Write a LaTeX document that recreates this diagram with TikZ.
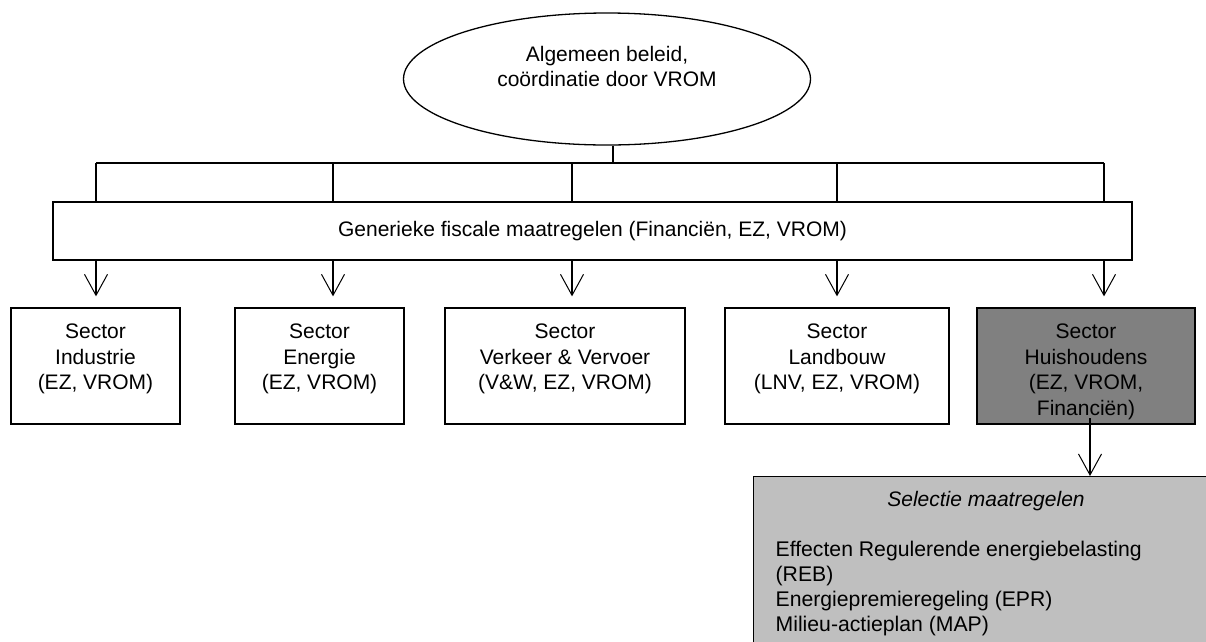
\documentclass[tikz,border=0pt]{standalone}
\usepackage{fontspec}
\setmainfont{Liberation Sans}
\usetikzlibrary{arrows.meta,shapes.geometric}
\begin{document}
\begin{tikzpicture}[x=1pt,y=-1pt,
  line width=1.3pt,
  txt/.style={font=\fontsize{21}{25.5}\selectfont, inner sep=0pt},
  boxs/.style={draw, rectangle, inner sep=0pt, minimum height=116pt},
  arr/.style={-{Straight Barb[length=21pt,width=23pt,line width=1pt]}},
  sectortext/.style={txt, anchor=north, align=center}
]
\useasboundingbox (0,0) rectangle (1206,641);
\clip (0,0) rectangle (1206,641);

% top ellipse
\node[draw, ellipse, minimum width=407pt, minimum height=132pt, inner sep=0pt] (top) at (607,79) {};
\node[txt, align=center, anchor=base] (toptxt) at (607,86) {Algemeen beleid,\\[-1pt]co\"ordinatie door VROM};

% bar
\node[draw, rectangle, minimum width=1079pt, minimum height=58pt, inner sep=0pt, txt] (bar) at (592.5,231) {Generieke fiscale maatregelen (Financi\"en, EZ, VROM)};

% sector boxes
\node[boxs, minimum width=169pt] (ind) at (95.5,366) {};
\node[boxs, minimum width=169pt] (ene) at (319.5,366) {};
\node[boxs, minimum width=240pt] (ver) at (565,366) {};
\node[boxs, minimum width=224pt] (lan) at (837,366) {};
\node[boxs, minimum width=218pt, fill=black!50] (hui) at (1086,366) {};

\node[sectortext] (indt) at (95.5,323.3) {Sector\\Industrie\\(EZ, VROM)};
\node[sectortext] (enet) at (319.5,323.3) {Sector\\Energie\\(EZ, VROM)};
\node[sectortext] (vert) at (565,323.3) {Sector\\Verkeer \& Vervoer\\(V\&W, EZ, VROM)};
\node[sectortext] (lant) at (837,323.3) {Sector\\Landbouw\\(LNV, EZ, VROM)};
\node[sectortext] (huit) at (1086,323.3) {Sector\\Huishoudens\\(EZ, VROM,\\Financi\"en)};

% selection box
\node[draw, rectangle, fill=black!25, minimum width=466pt, minimum height=190pt, inner sep=0pt, anchor=north west] (sel) at (753,476) {};
\node[txt, anchor=base, font=\fontsize{21}{25.5}\selectfont\itshape] (selt) at (986,506) {Selectie maatregelen};
\node[txt, anchor=north west, align=left, font=\fontsize{21.2}{25}\selectfont] (sell) at (775,540) {Effecten Regulerende energiebelasting\\(REB)\\Energiepremieregeling (EPR)\\Milieu-actieplan (MAP)};

% connectors
\coordinate (hub) at (613,163);
\coordinate (t1) at (96,163);
\coordinate (t2) at (333,163);
\coordinate (t3) at (572,163);
\coordinate (t4) at (837,163);
\coordinate (t5) at (1104,163);
\draw (hub |- top.south) -- (hub);
\draw (t1) -- (t5);
\foreach \t/\b in {t1/ind,t2/ene,t3/ver,t4/lan,t5/hui}{
  \draw (\t) -- (\t |- bar.north);
  \draw[arr, shorten >=11pt] (\t |- bar.south) -- (\t |- \b.north);
}
\coordinate (hs) at (1090,418);
\draw[arr] (hs) -- (hs |- sel.north);
\end{tikzpicture}
\end{document}
